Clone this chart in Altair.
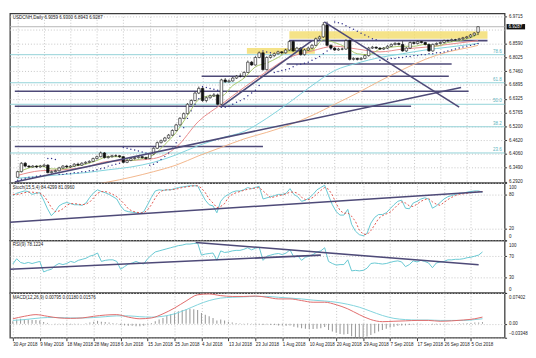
import json
import altair as alt
import pandas as pd

# ---------------- data ----------------
DATE_LABELS = ['30 Apr 2018', '9 May 2018', '18 May 2018', '28 May 2018', '6 Jun 2018',
               '15 Jun 2018', '25 Jun 2018', '4 Jul 2018', '13 Jul 2018', '23 Jul 2018',
               '1 Aug 2018', '10 Aug 2018', '20 Aug 2018', '29 Aug 2018', '7 Sep 2018',
               '17 Sep 2018', '26 Sep 2018', '5 Oct 2018']
TICKS = [0, 7, 14, 21, 28, 35, 42, 49, 56, 63, 70, 77, 84, 91, 98, 105, 112, 119]

OPEN = [6.3100, 6.3331, 6.3677, 6.3561, 6.3523, 6.3561, 6.3523, 6.3561, 6.3600, 6.3292,
        6.3331, 6.3369, 6.3485, 6.3561, 6.3523, 6.3561, 6.3638, 6.3600, 6.3677, 6.3715,
        6.3754, 6.3869, 6.3946, 6.4100, 6.3908, 6.3946, 6.3985, 6.3985, 6.3946, 6.3715,
        6.3792, 6.3869, 6.3908, 6.3946, 6.3908, 6.3869, 6.4061, 6.4292, 6.4523, 6.4600,
        6.4715, 6.4831, 6.5023, 6.5254, 6.5523, 6.5715, 6.6100, 6.6254, 6.6561, 6.6754,
        6.6254, 6.6369, 6.6446, 6.6485, 6.6100, 6.7100, 6.7023, 6.7061, 6.7177, 6.7254,
        6.7254, 6.7408, 6.7831, 6.7715, 6.8023, 6.8215, 6.7523, 6.8023, 6.8100, 6.8177,
        6.8254, 6.8215, 6.8331, 6.8677, 6.8292, 6.8408, 6.8138, 6.8331, 6.8408, 6.8523,
        6.8792, 6.8869, 6.9369, 6.8523, 6.8408, 6.8331, 6.8369, 6.8369, 6.8715, 6.7946,
        6.7985, 6.7946, 6.7985, 6.8100, 6.8408, 6.8446, 6.8408, 6.8369, 6.8408, 6.8485,
        6.8561, 6.8600, 6.8561, 6.8292, 6.8408, 6.8638, 6.8600, 6.8677, 6.8638, 6.8561,
        6.8292, 6.8561, 6.8600, 6.8638, 6.8715, 6.8715, 6.8754, 6.8754, 6.8792, 6.8831,
        6.8869, 6.8946, 6.9059]
HIGH = [6.3370, 6.3720, 6.3730, 6.3600, 6.3600, 6.3590, 6.3610, 6.3650, 6.3640, 6.3380,
        6.3420, 6.3530, 6.3600, 6.3610, 6.3600, 6.3680, 6.3700, 6.3720, 6.3760, 6.3800,
        6.3910, 6.3990, 6.4160, 6.4140, 6.3990, 6.4030, 6.4040, 6.4010, 6.3980, 6.3830,
        6.3900, 6.3950, 6.3990, 6.3980, 6.3950, 6.4100, 6.4330, 6.4570, 6.4650, 6.4760,
        6.4880, 6.5070, 6.5300, 6.5570, 6.5760, 6.6150, 6.6300, 6.6620, 6.6830, 6.6800,
        6.6420, 6.6500, 6.6560, 6.6540, 6.7150, 6.7180, 6.7120, 6.7230, 6.7300, 6.7370,
        6.7450, 6.7900, 6.7880, 6.8080, 6.8270, 6.8250, 6.8070, 6.8150, 6.8230, 6.8300,
        6.8290, 6.8380, 6.8730, 6.8720, 6.8460, 6.8450, 6.8380, 6.8460, 6.8570, 6.8840,
        6.8920, 6.9480, 6.9500, 6.8560, 6.8450, 6.8420, 6.8420, 6.8770, 6.8760, 6.8030,
        6.8020, 6.8040, 6.8150, 6.8460, 6.8500, 6.8480, 6.8450, 6.8450, 6.8530, 6.8600,
        6.8650, 6.8640, 6.8690, 6.8450, 6.8680, 6.8680, 6.8720, 6.8700, 6.8670, 6.8600,
        6.8600, 6.8640, 6.8680, 6.8760, 6.8760, 6.8800, 6.8790, 6.8830, 6.8870, 6.8910,
        6.8990, 6.9060, 6.9300]
LOW = [6.3080, 6.3300, 6.3520, 6.3490, 6.3500, 6.3480, 6.3500, 6.3530, 6.3260, 6.3250,
       6.3300, 6.3340, 6.3450, 6.3480, 6.3490, 6.3530, 6.3560, 6.3570, 6.3640, 6.3680,
       6.3720, 6.3830, 6.3920, 6.3870, 6.3870, 6.3910, 6.3940, 6.3900, 6.3680, 6.3680,
       6.3760, 6.3830, 6.3870, 6.3870, 6.3830, 6.3850, 6.4030, 6.4260, 6.4490, 6.4560,
       6.4680, 6.4800, 6.4990, 6.5220, 6.5490, 6.5680, 6.6060, 6.6220, 6.6520, 6.6200,
       6.6180, 6.6330, 6.6400, 6.6060, 6.6070, 6.6980, 6.6990, 6.7030, 6.7140, 6.7200,
       6.7200, 6.7380, 6.7680, 6.7690, 6.7990, 6.7480, 6.7490, 6.7980, 6.8050, 6.8140,
       6.8150, 6.8180, 6.8300, 6.8260, 6.8250, 6.8100, 6.8100, 6.8300, 6.8370, 6.8490,
       6.8750, 6.8830, 6.8480, 6.8370, 6.8290, 6.8300, 6.8320, 6.8340, 6.7900, 6.7900,
       6.7900, 6.7910, 6.7950, 6.8060, 6.8370, 6.8370, 6.8330, 6.8330, 6.8370, 6.8450,
       6.8520, 6.8520, 6.8260, 6.8250, 6.8370, 6.8560, 6.8560, 6.8600, 6.8520, 6.8260,
       6.8260, 6.8520, 6.8560, 6.8600, 6.8670, 6.8680, 6.8710, 6.8720, 6.8750, 6.8790,
       6.8830, 6.8900, 6.8943]
CLOSE = [6.3331, 6.3677, 6.3561, 6.3523, 6.3561, 6.3523, 6.3561, 6.3600, 6.3292, 6.3331,
         6.3369, 6.3485, 6.3561, 6.3523, 6.3561, 6.3638, 6.3600, 6.3677, 6.3715, 6.3754,
         6.3869, 6.3946, 6.4100, 6.3908, 6.3946, 6.3985, 6.3985, 6.3946, 6.3715, 6.3792,
         6.3869, 6.3908, 6.3946, 6.3908, 6.3869, 6.4061, 6.4292, 6.4523, 6.4600, 6.4715,
         6.4831, 6.5023, 6.5254, 6.5523, 6.5715, 6.6100, 6.6254, 6.6561, 6.6754, 6.6254,
         6.6369, 6.6446, 6.6485, 6.6100, 6.7100, 6.7023, 6.7061, 6.7177, 6.7254, 6.7254,
         6.7408, 6.7831, 6.7715, 6.8023, 6.8215, 6.7523, 6.8023, 6.8100, 6.8177, 6.8254,
         6.8215, 6.8331, 6.8677, 6.8292, 6.8408, 6.8138, 6.8331, 6.8408, 6.8523, 6.8792,
         6.8869, 6.9369, 6.8523, 6.8408, 6.8331, 6.8369, 6.8369, 6.8715, 6.7946, 6.7985,
         6.7946, 6.7985, 6.8100, 6.8408, 6.8446, 6.8408, 6.8369, 6.8408, 6.8485, 6.8561,
         6.8600, 6.8561, 6.8292, 6.8408, 6.8638, 6.8600, 6.8677, 6.8638, 6.8561, 6.8292,
         6.8561, 6.8600, 6.8638, 6.8715, 6.8715, 6.8754, 6.8754, 6.8792, 6.8831, 6.8869,
         6.8946, 6.9023, 6.9287]

# moving averages (sampled readings)
GREEN_I = [0, 3, 6, 9, 12, 15, 18, 21, 24, 27, 30, 33, 36, 39, 42, 45, 48, 51, 54, 57, 60,
           63, 66, 69, 72, 75, 78, 81, 84, 87, 90, 93, 96, 99, 102, 105, 108, 111, 114, 117, 120, 122]
GREEN_V = [6.3292, 6.3485, 6.3561, 6.3446, 6.3446, 6.3561, 6.3638, 6.3792, 6.3946, 6.3946,
           6.3792, 6.3869, 6.4023, 6.4446, 6.4946, 6.5638, 6.6292, 6.6446, 6.6446, 6.6869,
           6.7177, 6.7638, 6.7792, 6.8023, 6.8292, 6.8292, 6.8331, 6.8754, 6.8638, 6.8446,
           6.8177, 6.8138, 6.8369, 6.8446, 6.8485, 6.8485, 6.8561, 6.8485, 6.8638, 6.8715,
           6.8831, 6.8985]
SLOW_I = [0, 6, 12, 18, 24, 30, 36, 42, 48, 54, 60, 66, 72, 78, 84, 90, 96, 102, 108, 114, 120, 122]
RED_V = [6.3177, 6.3369, 6.3408, 6.3523, 6.3754, 6.3792, 6.3869, 6.4331, 6.5408, 6.6100, 6.6792,
         6.7446, 6.8023, 6.8292, 6.8485, 6.8369, 6.8254, 6.8369, 6.8446, 6.8561, 6.8677, 6.8715]
TEAL_V = [6.3061, 6.3138, 6.3215, 6.3292, 6.3408, 6.3523, 6.3715, 6.4023, 6.4408, 6.4715, 6.4984,
          6.5523, 6.6177, 6.6869, 6.7485, 6.7792, 6.8023, 6.8177, 6.8331, 6.8446, 6.8561, 6.8600]
ORANGE_I = [12, 18, 24, 30, 36, 42, 48, 54, 60, 66, 72, 78, 84, 90, 96, 102, 108, 114, 120, 122]
ORANGE_V = [6.2640, 6.2754, 6.2908, 6.3100, 6.3331, 6.3600, 6.3985, 6.4331, 6.4677, 6.4946,
            6.5254, 6.5638, 6.6100, 6.6561, 6.7061, 6.7523, 6.7946, 6.8254, 6.8446, 6.8523]

SAR = [6.298, 6.302, 6.306, 6.310, 6.310, 6.314, 6.318, 6.318,
       6.387, 6.387, 6.383,
       6.322, 6.322, 6.325, 6.325, 6.329, 6.329, 6.333, 6.333, 6.337, 6.337, 6.341, 6.345,
       6.348, 6.356, 6.360, 6.364, 6.368,
       6.433, 6.429, 6.425, 6.422, 6.418, 6.414, 6.410,
       6.360, 6.364, 6.372, 6.383, 6.395, 6.410, 6.429, 6.452, 6.479, 6.514, 6.552, 6.583,
       6.610, 6.633,
       6.683, 6.679, 6.675, 6.672, 6.668,
       6.598, 6.598, 6.602, 6.610, 6.618, 6.625, 6.633, 6.645, 6.656, 6.668, 6.687,
       6.829, 6.825, 6.822,
       6.741, 6.745, 6.749, 6.752, 6.756, 6.764, 6.772, 6.775, 6.779, 6.783, 6.791, 6.798,
       6.806, 6.818, 6.829, 6.837,
       6.948, 6.945, 6.941, 6.933, 6.925, 6.918, 6.910, 6.902, 6.895, 6.887, 6.879, 6.875,
       6.791, 6.795, 6.795, 6.798, 6.798, 6.802, 6.802, 6.806, 6.806, 6.810, 6.810, 6.814,
       6.814, 6.818, 6.818, 6.822, 6.822, 6.825, 6.829, 6.833, 6.837, 6.841, 6.845, 6.849,
       6.852, 6.856, 6.860]

PRICE_TICKS = [6.9715, 6.8590, 6.8025, 6.7460, 6.6895, 6.6325, 6.5765, 6.5200,
               6.4620, 6.4060, 6.3490, 6.2920]
HIDDEN_GRID = [6.9150]
FIB_LEVELS = ['78.6', '61.8', '50.0', '38.2', '23.6']
FIB_PRICES = [6.8138, 6.6985, 6.6100, 6.5177, 6.4100]
BID = 6.9287

HL_P = [6.8715, 6.7754, 6.7254, 6.6638, 6.6023, 6.4369]
HL_X1 = [72.0, 71.25, 48.75, -0.75, -0.75, -0.75]
HL_X2 = [124.5, 115.0, 114.25, 119.5, 104.25, 65.0]

TL_X1 = [53.75, 81.25, -0.75]
TL_P1 = [6.5985, 6.9485, 6.2908]
TL_X2 = [78.0, 117.0, 117.5]
TL_P2 = [6.8715, 6.5985, 6.6792]

BAND_X1 = [60.75, 72.0]
BAND_X2 = [78.75, 124.5]
BAND_LO = [6.8177, 6.8792]
BAND_HI = [6.8408, 6.9100]

STOCH_K = [78, 82, 84, 86, 85, 80, 82, 83, 70, 55,
           43, 50, 60, 64, 66, 64, 62, 62, 61, 65,
           75, 83, 88, 85, 83, 80, 76, 72, 60, 52,
           50, 49, 48, 47, 50, 62, 75, 86, 88, 87,
           88, 88, 90, 92, 93, 94, 95, 95, 95, 82,
           70, 62, 60, 48, 68, 76, 80, 84, 86, 86,
           88, 92, 90, 92, 94, 72, 74, 76, 78, 80,
           80, 82, 90, 80, 76, 68, 70, 74, 80, 88,
           92, 96, 78, 62, 50, 44, 44, 54, 28, 16,
           10, 8, 12, 30, 40, 45, 45, 48, 55, 62,
           68, 70, 56, 55, 65, 68, 72, 74, 72, 56,
           60, 66, 72, 76, 78, 80, 82, 82, 84, 85,
           86, 86, 84]
STOCH_D = [80, 80, 81, 83, 84, 84, 83, 82, 78, 69,
           57, 50, 51, 55, 61, 64, 64, 63, 62, 63,
           67, 74, 82, 85, 85, 83, 80, 76, 70, 63,
           55, 51, 49, 48, 48, 53, 62, 74, 83, 87,
           88, 88, 89, 90, 92, 93, 94, 95, 95, 91,
           83, 72, 65, 57, 59, 64, 75, 80, 83, 85,
           87, 89, 90, 91, 92, 86, 80, 74, 76, 78,
           79, 81, 84, 84, 82, 75, 71, 71, 75, 81,
           87, 92, 89, 79, 64, 52, 47, 48, 42, 33,
           18, 11, 10, 17, 27, 38, 43, 46, 49, 55,
           62, 67, 65, 60, 59, 63, 68, 71, 73, 67,
           63, 61, 66, 71, 75, 78, 80, 81, 82, 83,
           84, 85, 85]
STOCH_TL = {'x1': [-0.75], 'v1': [31.6], 'x2': [122.0], 'v2': [84.7]}

RSI = [55, 65, 58, 56, 58, 56, 58, 60, 40, 43,
       45, 52, 56, 54, 56, 60, 58, 62, 64, 66,
       70, 72, 76, 60, 62, 63, 63, 60, 45, 50,
       55, 57, 60, 57, 55, 65, 72, 78, 80, 82,
       84, 86, 88, 90, 91, 93, 93, 94, 95, 72,
       74, 75, 76, 62, 80, 77, 78, 80, 81, 81,
       83, 86, 82, 85, 87, 62, 70, 72, 74, 75,
       73, 76, 82, 68, 71, 62, 68, 70, 73, 78,
       80, 86, 60, 56, 53, 54, 54, 63, 42, 43,
       42, 43, 47, 56, 57, 56, 55, 56, 58, 60,
       61, 59, 50, 54, 61, 59, 62, 60, 57, 48,
       57, 59, 60, 63, 63, 64, 64, 65, 67, 68,
       70, 72, 78]
RSI_TL = {'x1': [47.5, -0.75], 'v1': [96, 45], 'x2': [121.0, 80.0], 'v2': [53.5, 72]}

MACD_I = GREEN_I
MACD_RED = [0.012, 0.018, 0.022, 0.018, 0.014, 0.013, 0.014, 0.018, 0.021, 0.022,
            0.016, 0.012, 0.014, 0.024, 0.038, 0.055, 0.070, 0.072, 0.068, 0.066,
            0.066, 0.067, 0.064, 0.060, 0.060, 0.056, 0.052, 0.052, 0.046, 0.036,
            0.022, 0.010, 0.005, 0.006, 0.007, 0.008, 0.008, 0.006, 0.007, 0.009,
            0.012, 0.016]
MACD_TEAL = [0.008, 0.010, 0.013, 0.015, 0.015, 0.014, 0.014, 0.015, 0.017, 0.019,
             0.019, 0.017, 0.016, 0.018, 0.024, 0.034, 0.046, 0.056, 0.062, 0.064,
             0.065, 0.066, 0.066, 0.064, 0.062, 0.060, 0.057, 0.055, 0.052, 0.047,
             0.040, 0.030, 0.020, 0.013, 0.010, 0.009, 0.009, 0.008, 0.008, 0.008,
             0.010, 0.012]
MACD_HIST = [0.006, 0.010, 0.012, 0.011, 0.010, 0.009, 0.009, 0.008, 0.004, 0.002,
             0.000, -0.001, -0.001, -0.001, -0.002, -0.002, -0.001, -0.001, 0.000, 0.001,
             0.003, 0.005, 0.007, 0.005, 0.004, 0.003, 0.002, 0.001, -0.003, -0.004,
             -0.005, -0.005, -0.006, -0.006, -0.005, -0.002, 0.002, 0.006, 0.010, 0.014,
             0.019, 0.023, 0.027, 0.030, 0.033, 0.035, 0.036, 0.035, 0.033, 0.026,
             0.022, 0.018, 0.014, 0.008, 0.010, 0.008, 0.005, 0.003, 0.002, 0.001,
             -0.001, 0.001, -0.001, -0.002, -0.002, -0.003, -0.002, -0.003, -0.003, -0.004,
             -0.004, -0.005, -0.004, -0.007, -0.009, -0.011, -0.012, -0.013, -0.013, -0.012,
             -0.011, -0.008, -0.015, -0.019, -0.022, -0.025, -0.026, -0.025, -0.030, -0.032,
             -0.033, -0.033, -0.031, -0.027, -0.023, -0.019, -0.015, -0.012, -0.009, -0.007,
             -0.005, -0.004, -0.004, -0.003, -0.002, -0.001, -0.001, 0.000, 0.000, -0.002,
             -0.002, -0.002, -0.001, -0.001, 0.000, 0.000, 0.001, 0.001, 0.002, 0.002,
             0.003, 0.003, 0.004]
MACD_MIN, MACD_MAX = -0.03348, 0.07402

HEAD_MAIN = 'USDCNH,Daily  6.9059 6.9300 6.8943 6.9287'
HEAD_STOCH = 'Stoch(15,5,4) 84.4299 81.0960'
HEAD_RSI = 'RSI(9) 78.1224'
HEAD_MACD = 'MACD(12,26,9) 0.00795 0.01180 0.01576'

# ---------------- chart ----------------
N = len(CLOSE)
IDX = list(range(N))
XD = [-0.75, 127.75]
PD = [6.2869, 6.9831]
PW = 508
GRID = '#c4c4c4'
DARK = '#4e4a78'
FONT = 'Liberation Sans'
FS = 4.6
LABEL_EXPR = json.dumps(DATE_LABELS) + '[round(datum.value / 7)]'

XAX_GRID = alt.Axis(values=TICKS, labels=False, ticks=False, domain=False, grid=True,
                    gridColor=GRID, gridDash=[1, 2], title=None)
XAX_LAB = alt.Axis(values=TICKS, labelExpr=LABEL_EXPR, labelAlign='left', labelFontSize=FS,
                   labelPadding=1, tickSize=3, tickColor='#333', labelColor='#222',
                   labelFlush=False, labelOverlap=False, domain=False, grid=True,
                   gridColor=GRID, gridDash=[1, 2], title=None, labelFont=FONT)


def y_axis(values, fmt=None, expr=None):
    kw = dict(orient='right', values=values, labelFontSize=FS, labelPadding=2, tickSize=2,
              tickColor='#333', labelColor='#222', domain=False, grid=True, gridColor=GRID,
              gridDash=[1, 2], title=None, labelOverlap=False, labelFont=FONT,
              labelFlush=True, labelFlushOffset=-2)
    if fmt:
        kw['format'] = fmt
    if expr:
        kw['labelExpr'] = expr
    return alt.Axis(**kw)


def make_enc(xaxis, ydomain, yaxis):
    def X(field):
        return alt.X(field, type='quantitative',
                     scale=alt.Scale(domain=XD, nice=False, zero=False), axis=xaxis)

    def Y(field):
        return alt.Y(field, type='quantitative',
                     scale=alt.Scale(domain=ydomain, nice=False, zero=False), axis=yaxis)
    return X, Y


def header(text):
    return alt.Chart(pd.DataFrame({'t': [text]})).mark_text(
        align='left', baseline='top', fontSize=FS, color='#222', font=FONT
    ).encode(x=alt.value(3), y=alt.value(2), text='t:N')


# ---- main price panel
X, Y = make_enc(XAX_GRID, PD, y_axis(PRICE_TICKS, fmt='.4f'))
cdf = pd.DataFrame({'i': IDX, 'o': OPEN, 'h': HIGH, 'l': LOW, 'c': CLOSE})
hidden_grid = alt.Chart(pd.DataFrame({'p': HIDDEN_GRID})).mark_rule(
    color=GRID, strokeDash=[1, 2], strokeWidth=1).encode(y=Y('p:Q'))
bands = alt.Chart(pd.DataFrame({'x1': BAND_X1, 'x2': BAND_X2, 'lo': BAND_LO, 'hi': BAND_HI})).mark_rect(
    color='#f3dc6a', opacity=0.8).encode(x=X('x1:Q'), x2='x2:Q', y=Y('lo:Q'), y2='hi:Q')
fib_df = pd.DataFrame({'lvl': FIB_LEVELS, 'p': FIB_PRICES})
fib_lines = alt.Chart(fib_df).mark_rule(color='#92d2d8', strokeWidth=1).encode(y=Y('p:Q'))
fib_text = alt.Chart(fib_df).mark_text(align='right', baseline='bottom', fontSize=FS, dy=-1,
                                        color='#5cb3bd', font=FONT).encode(
    x=alt.value(PW - 3), y=Y('p:Q'), text='lvl:N')
bid_line = alt.Chart(pd.DataFrame({'p': [BID]})).mark_rule(color='#b5b5b5', strokeWidth=1).encode(
    y=Y('p:Q'))
hlines = alt.Chart(pd.DataFrame({'x1': HL_X1, 'x2': HL_X2, 'p': HL_P})).mark_rule(
    color=DARK, strokeWidth=1.6).encode(x=X('x1:Q'), x2='x2:Q', y=Y('p:Q'))


def ma(idx, vals, color, width=1.0):
    return alt.Chart(pd.DataFrame({'i': idx, 'v': vals})).mark_line(
        color=color, strokeWidth=width, clip=True, interpolate='monotone').encode(
        x=X('i:Q'), y=Y('v:Q'))


ma_orange = ma(ORANGE_I, ORANGE_V, '#f2b58a')
ma_teal = ma(SLOW_I, TEAL_V, '#7fd3dc')
ma_red = ma(SLOW_I, RED_V, '#e88a8a')
ma_green = ma(GREEN_I, GREEN_V, '#a9c86a')
sar = alt.Chart(pd.DataFrame({'i': IDX, 's': SAR})).mark_circle(size=2.2, color='#33338a', opacity=1).encode(
    x=X('i:Q'), y=Y('s:Q'))
wick = alt.Chart(cdf).mark_rule(color='#111', strokeWidth=0.7).encode(
    x=X('i:Q'), y=Y('l:Q'), y2='h:Q')
body = alt.Chart(cdf).mark_bar(size=2.6, stroke='#111', strokeWidth=0.6).encode(
    x=X('i:Q'), y=Y('o:Q'), y2='c:Q',
    fill=alt.condition('datum.c >= datum.o', alt.value('white'), alt.value('#111')))
tlines = alt.Chart(pd.DataFrame({'x1': TL_X1, 'p1': TL_P1, 'x2': TL_X2, 'p2': TL_P2})).mark_rule(
    color=DARK, strokeWidth=1.6, clip=True).encode(x=X('x1:Q'), x2='x2:Q', y=Y('p1:Q'), y2='p2:Q')
box_df = pd.DataFrame({'p': [BID], 'lab': ['6.9287']})
box = alt.Chart(box_df).transform_calculate(lo='datum.p - 0.011', hi='datum.p + 0.011').mark_rect(
    color='#111').encode(x=alt.value(PW + 2), x2=alt.value(PW + 21), y=Y('lo:Q'), y2='hi:Q')
box_t = alt.Chart(box_df).mark_text(fontSize=FS, color='white', align='left', baseline='middle',
                                     font=FONT).encode(x=alt.value(PW + 4), y=Y('p:Q'), text='lab:N')

main = alt.layer(hidden_grid, bands, fib_lines, bid_line, hlines, ma_orange, ma_teal, ma_red,
                 ma_green, sar, wick, body, tlines, fib_text, box, box_t,
                 header(HEAD_MAIN)).properties(width=PW, height=174)

# ---- stochastic
X, Y = make_enc(XAX_GRID, [0, 100], y_axis([0, 20, 80, 100]))
sdf = pd.DataFrame({'i': IDX, 'k': STOCH_K, 'd': STOCH_D})
st_k = alt.Chart(sdf).mark_line(color='#66c7d2', strokeWidth=1).encode(x=X('i:Q'), y=Y('k:Q'))
st_d = alt.Chart(sdf).mark_line(color='#e0544c', strokeWidth=1, strokeDash=[2, 2]).encode(
    x=X('i:Q'), y=Y('d:Q'))
st_tl = alt.Chart(pd.DataFrame(STOCH_TL)).mark_rule(color=DARK, strokeWidth=1.6, clip=True).encode(
    x=X('x1:Q'), x2='x2:Q', y=Y('v1:Q'), y2='v2:Q')
stoch = alt.layer(st_k, st_d, st_tl, header(HEAD_STOCH)).properties(width=PW, height=59)

# ---- RSI
X, Y = make_enc(XAX_GRID, [0, 100], y_axis([0, 30, 70, 100]))
rdf = pd.DataFrame({'i': IDX, 'r': RSI})
rsi_l = alt.Chart(rdf).mark_line(color='#66c7d2', strokeWidth=1).encode(x=X('i:Q'), y=Y('r:Q'))
rsi_tl = alt.Chart(pd.DataFrame(RSI_TL)).mark_rule(color=DARK, strokeWidth=1.6, clip=True).encode(
    x=X('x1:Q'), x2='x2:Q', y=Y('v1:Q'), y2='v2:Q')
rsi = alt.layer(rsi_l, rsi_tl, header(HEAD_RSI)).properties(width=PW, height=54)

# ---- MACD
MD = [MACD_MIN - 0.0004, MACD_MAX + 0.0004]
X, Y = make_enc(XAX_LAB, MD,
                y_axis([MACD_MIN, 0, MACD_MAX],
                       expr="datum.value == 0 ? '0.00' : format(datum.value, '.5f')"))
hdf = pd.DataFrame({'i': IDX, 'h': MACD_HIST})
m_hist = alt.Chart(hdf).mark_rule(color='#9c9c9c', strokeWidth=1.1).encode(
    x=X('i:Q'), y=Y('h:Q'), y2=alt.datum(0))
ldf = pd.DataFrame({'i': MACD_I, 'm': MACD_RED, 's': MACD_TEAL})
m_teal = alt.Chart(ldf).mark_line(color='#7fd3dc', strokeWidth=1, interpolate='monotone').encode(
    x=X('i:Q'), y=Y('s:Q'))
m_red = alt.Chart(ldf).mark_line(color='#e06a6a', strokeWidth=1, interpolate='monotone').encode(
    x=X('i:Q'), y=Y('m:Q'))
macd = alt.layer(m_hist, m_teal, m_red, header(HEAD_MACD)).properties(width=PW, height=46)

chart = alt.vconcat(main, stoch, rsi, macd, spacing=0, bounds='flush').properties(
    padding={'left': 0, 'top': 0, 'right': 0, 'bottom': 0}, background='white'
).configure_view(stroke='#3c3c3c', strokeWidth=1.3)

chart.save('out.html', embed_options={'renderer': 'svg', 'actions': False})
